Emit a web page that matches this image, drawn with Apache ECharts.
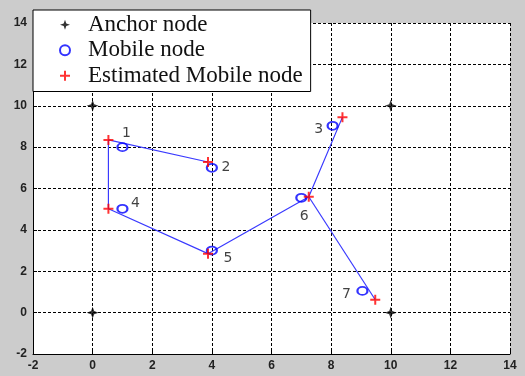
<!DOCTYPE html>
<html><head><meta charset="utf-8">
<script src="https://cdn.jsdelivr.net/npm/echarts@6/dist/echarts.min.js"></script>
<style>html,body{margin:0;padding:0;background:#cccccc}#c{width:525px;height:376px}</style>
</head><body><div id="c"></div>
<script>
// Data
const anchorNodes = [[0,10],[10,10],[0,0],[10,0]];
const mobileNodes = [[1,8],[4,7],[8.05,9.03],[1,5.02],[4,3],[7,5.55],[9.05,1.05]];
const estimatedNodes = [[0.53,8.35],[3.87,7.28],[8.38,9.45],[0.53,5.02],[3.87,2.85],[7.25,5.6],[9.48,0.62]];
const nodeLabels = ['1','2','3','4','5','6','7'];
const pathOrder = [1,0,3,4,5,2];   // indices of estimated nodes joined by the main path
const branchOrder = [5,6];
const xTicks = {min:-2,max:14,interval:2};
const yTicks = {min:-2,max:14,interval:2};
// label layout (styling)
const labelOffsets = [[4,-14],[14,0],[-14,4],[13,-5],[16,8],[3,19],[-16,3]];

const plusPath = 'path://M4,0H6V4H10V6H6V10H4V6H0V4H4Z';
const starPath = 'path://M5,0L6.3,3.7L10,5L6.3,6.3L5,10L3.7,6.3L0,5L3.7,3.7Z';

const chart = echarts.init(document.getElementById('c'));
chart.setOption({
  backgroundColor:'#cccccc',
  animation:false,
  grid:{left:33,right:15,top:23,bottom:22,show:true,backgroundColor:'#ffffff',borderWidth:0},
  xAxis:{type:'value',min:xTicks.min,max:xTicks.max,interval:xTicks.interval,
    axisLine:{show:true,onZero:false,lineStyle:{color:'#000',width:1}},
    axisTick:{show:true,inside:true,length:4,lineStyle:{color:'#000'}},
    axisLabel:{color:'#222',fontFamily:'Liberation Sans, Arial',fontWeight:'bold',fontSize:12,margin:6},
    splitLine:{show:true,lineStyle:{color:'#000',type:[3,2],width:1}}},
  yAxis:{type:'value',min:yTicks.min,max:yTicks.max,interval:yTicks.interval,
    axisLine:{show:true,onZero:false,lineStyle:{color:'#000',width:1}},
    axisTick:{show:true,inside:true,length:4,lineStyle:{color:'#000'}},
    axisLabel:{color:'#222',fontFamily:'Liberation Sans, Arial',fontWeight:'bold',fontSize:12,margin:6},
    splitLine:{show:true,lineStyle:{color:'#000',type:[3,2],width:1}}},
  legend:{
    orient:'vertical',left:33,top:10,
    backgroundColor:'#ffffff',borderColor:'#000',borderWidth:1,borderRadius:0,
    padding:[2,8,3,26],itemGap:0,itemWidth:10,itemHeight:10,
    textStyle:{fontFamily:'Liberation Serif, Times New Roman',fontSize:23,color:'#111',lineHeight:25.5,padding:[0,0,0,13]},
    data:[
      {name:'Anchor node',icon:starPath,itemStyle:{color:'#000'}},
      {name:'Mobile node',icon:'circle',itemStyle:{color:'transparent',borderColor:'#0000ff',borderWidth:2}},
      {name:'Estimated Mobile node',icon:plusPath,itemStyle:{color:'#ff0000'}}
    ]
  },
  series:[
    {type:'line',name:'path',data:pathOrder.map(i=>estimatedNodes[i]),symbol:'none',
      lineStyle:{color:'#3a3aff',width:1.2},z:2,silent:true},
    {type:'line',name:'branch',data:branchOrder.map(i=>estimatedNodes[i]),symbol:'none',
      lineStyle:{color:'#3a3aff',width:1.2},z:2,silent:true},
    {type:'scatter',name:'Anchor node',data:anchorNodes,symbol:starPath,symbolSize:12,
      itemStyle:{color:'#000'},z:4},
    {type:'scatter',name:'Mobile node',symbol:'circle',symbolSize:[10,8],
      itemStyle:{color:'transparent',borderColor:'#0000ff',borderWidth:2},z:3,
      data:mobileNodes.map((p,i)=>({value:p,label:{show:true,formatter:nodeLabels[i],position:'inside',
        offset:labelOffsets[i],color:'#111',fontFamily:'DejaVu Sans',fontSize:14}}))},
    {type:'scatter',name:'Estimated Mobile node',data:estimatedNodes,symbol:plusPath,symbolSize:10,
      itemStyle:{color:'#ff0000'},z:5}
  ]
});
</script></body></html>
